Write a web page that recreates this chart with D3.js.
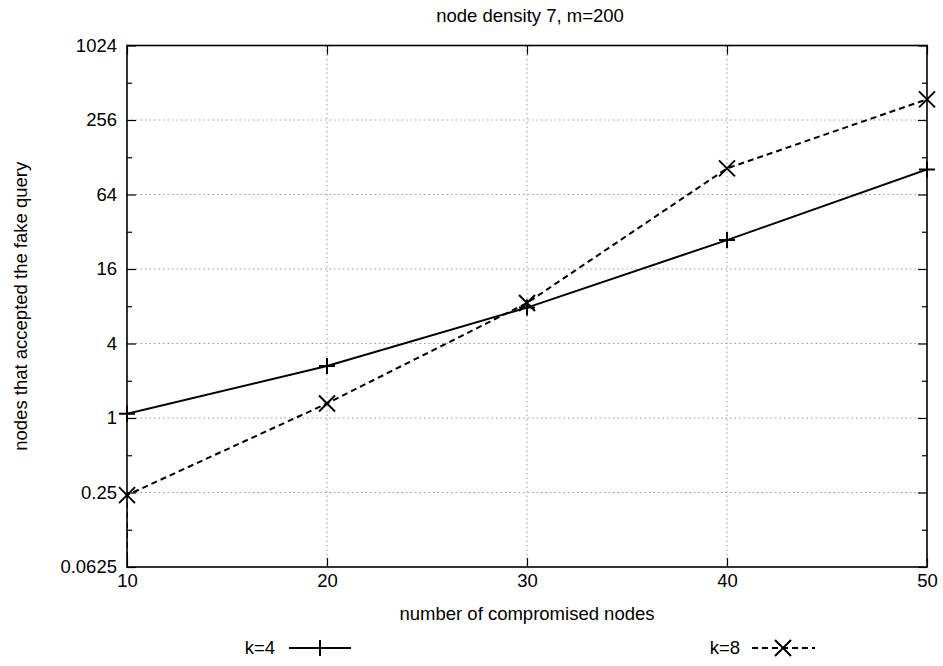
<!DOCTYPE html>
<html><head><meta charset="utf-8">
<script src="https://cdn.jsdelivr.net/npm/d3@7"></script>
<style>body{margin:0;background:#fff}svg text{font-family:"Liberation Sans",Arial,sans-serif;fill:#000}</style>
</head><body><svg id="c" width="943" height="666"></svg>
<script>
const xValues = [10, 20, 30, 40, 50];
const k4Values = [1.08, 2.63, 7.8, 27.4, 102];
const k8Values = [0.238, 1.31, 8.5, 104, 376];
const k8Lead = [0.02]; // value below the axis range at x=10 (drawn clipped)
const xTicks = [10, 20, 30, 40, 50];
const yTicks = [0.0625, 0.25, 1, 4, 16, 64, 256, 1024];
const yTickLabels = ["0.0625", "0.25", "1", "4", "16", "64", "256", "1024"];
const yMinorTicks = [0.125, 0.5, 2, 8, 32, 128, 512];
const title = "node density 7, m=200";
const xTitle = "number of compromised nodes";
const yTitle = "nodes that accepted the fake query";
const seriesNames = ["k=4", "k=8"];

const FS = 18.5;
const svg = d3.select("#c");
const L = 127, R = 927, T = 45.5, B = 567;
const x = d3.scaleLinear().domain([10, 50]).range([L, R]);
const y = d3.scaleLog().base(2).domain([0.0625, 1024]).range([B, T]);

svg.append("defs").append("clipPath").attr("id", "clip")
  .append("rect").attr("x", L).attr("y", T).attr("width", R - L).attr("height", B - T);

// grid
const grid = svg.append("g").attr("stroke", "#999").attr("stroke-width", 1).attr("stroke-dasharray", "1.5,3");
xTicks.filter(t => t > 10 && t < 50).forEach(t => {
  grid.append("line").attr("x1", x(t)).attr("x2", x(t)).attr("y1", T).attr("y2", B);
});
yTicks.filter(t => t > 0.0625 && t < 1024).forEach(t => {
  grid.append("line").attr("y1", y(t)).attr("y2", y(t)).attr("x1", L).attr("x2", R);
});

// axes with inward ticks
const axL = d3.axisLeft(y).tickValues(yTicks).tickFormat((d, i) => yTickLabels[i]).tickSizeInner(-9).tickSizeOuter(0).tickPadding(10);
const gL = svg.append("g").attr("transform", `translate(${L},0)`).call(axL);
const axB = d3.axisBottom(x).tickValues(xTicks).tickFormat(d3.format("d")).tickSizeInner(-9).tickSizeOuter(0).tickPadding(7);
const gB = svg.append("g").attr("transform", `translate(0,${B})`).call(axB);
const gR = svg.append("g").attr("transform", `translate(${R},0)`).call(d3.axisRight(y).tickValues(yTicks).tickFormat("").tickSizeInner(-9).tickSizeOuter(0));
const gT = svg.append("g").attr("transform", `translate(0,${T})`).call(d3.axisTop(x).tickValues(xTicks).tickFormat("").tickSizeInner(-9).tickSizeOuter(0));
svg.append("g").attr("transform", `translate(${L},0)`).call(d3.axisLeft(y).tickValues(yMinorTicks).tickFormat("").tickSizeInner(-5).tickSizeOuter(0)).select(".domain").remove();
svg.append("g").attr("transform", `translate(${R},0)`).call(d3.axisRight(y).tickValues(yMinorTicks).tickFormat("").tickSizeInner(-5).tickSizeOuter(0)).select(".domain").remove();
[gL, gB, gR, gT].forEach(g => {
  g.selectAll(".domain").remove();
  g.attr("font-size", FS).attr("font-family", "Liberation Sans, Arial, sans-serif");
  g.selectAll("text").attr("font-size", FS);
});
svg.selectAll(".tick line").attr("stroke", "#000").attr("stroke-width", 1.2);
// frame
svg.append("rect").attr("x", L).attr("y", T).attr("width", R - L).attr("height", B - T)
  .attr("fill", "none").attr("stroke", "#000").attr("stroke-width", 1.6);

// titles
svg.append("text").attr("x", 530).attr("y", 22).attr("text-anchor", "middle").attr("font-size", FS).text(title);
svg.append("text").attr("x", (L + R) / 2).attr("y", 620).attr("text-anchor", "middle").attr("font-size", FS).text(xTitle);
svg.append("text").attr("transform", `translate(27,${(T + B) / 2}) rotate(-90)`).attr("text-anchor", "middle").attr("font-size", FS).text(yTitle);

// series
const line = d3.line().x(d => x(d[0])).y(d => y(d[1]));
const k4 = xValues.map((v, i) => [v, k4Values[i]]);
const k8 = xValues.map((v, i) => [v, k8Values[i]]);
const plot = svg.append("g").attr("clip-path", "url(#clip)");
plot.append("path").datum(k4).attr("d", line).attr("fill", "none").attr("stroke", "#000").attr("stroke-width", 2);
plot.append("path").datum([[xValues[0], k8Lead[0]]].concat(k8)).attr("d", line).attr("fill", "none")
  .attr("stroke", "#000").attr("stroke-width", 2).attr("stroke-dasharray", "6,4");

function plus(g, cx, cy, s) {
  g.append("path").attr("d", `M${cx - s},${cy}H${cx + s}M${cx},${cy - s}V${cy + s}`).attr("stroke", "#000").attr("stroke-width", 2).attr("fill", "none");
}
function cross(g, cx, cy, s) {
  g.append("path").attr("d", `M${cx - s},${cy - s}L${cx + s},${cy + s}M${cx - s},${cy + s}L${cx + s},${cy - s}`).attr("stroke", "#000").attr("stroke-width", 2).attr("fill", "none");
}
const mk = svg.append("g");
k4.forEach(d => plus(mk, x(d[0]), y(d[1]), 8));
k8.forEach(d => cross(mk, x(d[0]), y(d[1]), 8));

// legend
const lg = svg.append("g");
lg.append("text").attr("x", 275).attr("y", 654).attr("text-anchor", "end").attr("font-size", FS).text(seriesNames[0]);
lg.append("line").attr("x1", 289).attr("x2", 351).attr("y1", 648).attr("y2", 648).attr("stroke", "#000").attr("stroke-width", 2);
plus(lg, 320, 648, 8);
lg.append("text").attr("x", 740).attr("y", 654).attr("text-anchor", "end").attr("font-size", FS).text(seriesNames[1]);
lg.append("line").attr("x1", 752).attr("x2", 815).attr("y1", 648).attr("y2", 648).attr("stroke", "#000").attr("stroke-width", 2).attr("stroke-dasharray", "6,4");
cross(lg, 783, 648, 8);
</script></body></html>
